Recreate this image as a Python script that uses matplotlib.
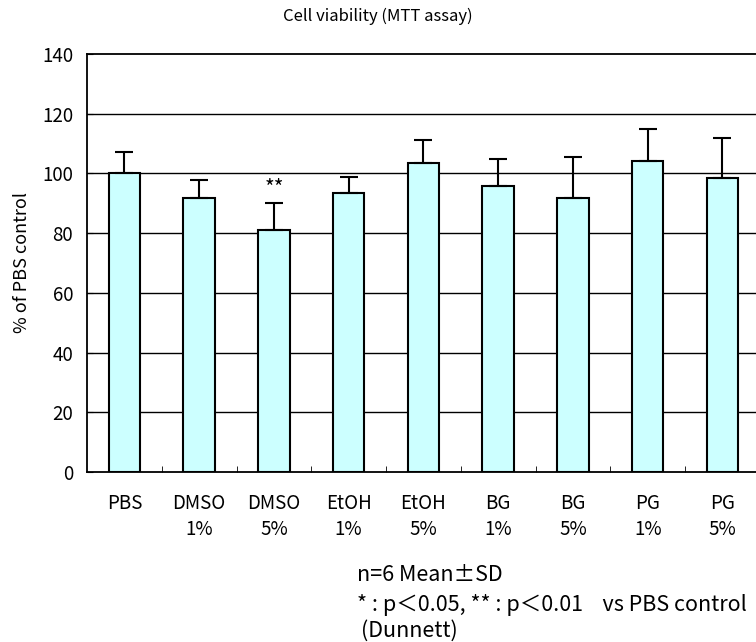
import numpy as np
import matplotlib
matplotlib.use("Agg")
import matplotlib.pyplot as plt

plt.rcParams['font.family'] = ['Noto Sans CJK JP', 'DejaVu Sans']

# data
groups = ["PBS", "DMSO\n1%", "DMSO\n5%", "EtOH\n1%", "EtOH\n5%",
          "BG\n1%", "BG\n5%", "PG\n1%", "PG\n5%"]
means = [100.0, 91.9, 81.1, 93.5, 103.6, 95.9, 91.9, 104.3, 98.3]
sds = [7.2, 5.9, 8.9, 5.4, 7.7, 9.0, 13.5, 10.6, 13.6]
marks = ["", "", "**", "", "", "", "", "", ""]
yticks = [0, 20, 40, 60, 80, 100, 120, 140]


def main():
    fig = plt.figure(figsize=(7.56, 6.42), dpi=100)
    ax = fig.add_axes([0.1151, 0.2648, 0.890, 0.6511])

    x = np.arange(len(groups))
    ax.bar(x, means, width=0.42, color="#CCFFFF", edgecolor="black",
           linewidth=1.5, zorder=3)
    ax.errorbar(x, means, yerr=[np.zeros(len(sds)), sds], fmt="none",
                ecolor="black", elinewidth=1.5, capsize=6.5, capthick=1.5,
                zorder=4)
    for xi, m, s, t in zip(x, means, sds, marks):
        if t:
            ax.text(xi, m + s + 1.0, t, ha="center", va="bottom", fontsize=15)

    ax.set_xlim(-0.5, len(groups) - 0.5)
    ax.set_ylim(0, 140)
    ax.set_yticks(yticks)
    ax.set_yticklabels([str(v) for v in yticks], fontsize=13.5)
    for v in yticks[1:-1]:
        ax.axhline(v, color="black", linewidth=1, zorder=1)

    ax.set_xticks(x)
    ax.set_xticklabels(groups, fontsize=13.5, linespacing=1.3)
    ax.tick_params(axis="x", length=0, pad=15)
    ax.set_xticks(np.arange(0.5, len(groups) - 0.5, 1), minor=True)
    ax.tick_params(axis="x", which="minor", direction="in", length=4)
    ax.tick_params(axis="y", direction="in", length=4, pad=10)
    for sp in ax.spines.values():
        sp.set_linewidth(1.3)

    ax.set_ylabel("% of PBS control", fontsize=13, labelpad=8)
    fig.text(0.5, 0.975, "Cell viability (MTT assay)", ha="center",
             va="center", fontsize=12)

    fig.text(0.472, 0.1044, "n=6 Mean±SD", ha="left", va="center", fontsize=15.5)
    fig.text(0.472, 0.0576, "* : p＜0.05, ** : p＜0.01    vs PBS control",
             ha="left", va="center", fontsize=15.5)
    fig.text(0.477, 0.0171, "(Dunnett)", ha="left", va="center", fontsize=15.5)

    fig.savefig("out.png", dpi=100)


if __name__ == "__main__":
    main()
